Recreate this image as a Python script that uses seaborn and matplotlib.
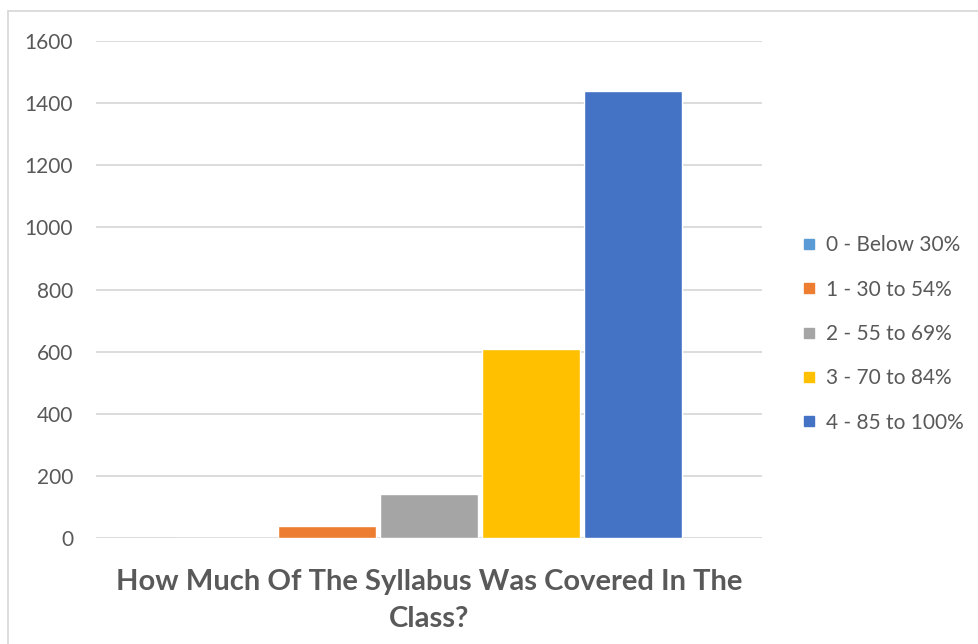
import matplotlib
matplotlib.use("Agg")
import matplotlib.pyplot as plt
import seaborn as sns
import pandas as pd
from matplotlib.patches import Rectangle
from matplotlib.lines import Line2D

categories = ["How Much Of The Syllabus Was Covered In The\nClass?"]
series = ["0 - Below 30%", "1 - 30 to 54%", "2 - 55 to 69%", "3 - 70 to 84%", "4 - 85 to 100%"]
values = [0, 38, 141, 608, 1439]
colors = ["#5B9BD5", "#ED7D31", "#A5A5A5", "#FFC000", "#4472C4"]
yticks = [0, 200, 400, 600, 800, 1000, 1200, 1400, 1600]

sns.set_theme(style="white")
plt.rcParams["font.family"] = ["Lato", "DejaVu Sans"]

W, H = 979, 644
fig = plt.figure(figsize=(W / 100, H / 100), dpi=100)
ax = fig.add_axes([96 / W, 1 - 538 / H, (762 - 96) / W, (538 - 41) / H])

df = pd.DataFrame({"cat": categories * len(series), "series": series, "val": values})
sns.barplot(data=df, x="cat", y="val", hue="series", hue_order=series,
            palette=colors, width=0.767, gap=0.04, saturation=1, ax=ax,
            legend=False, zorder=3)

ax.set_xlim(-0.5, 0.5)
ax.set_ylim(0, 1600)
ax.set_yticks(yticks)
ax.set_yticklabels([str(t) for t in yticks])
ax.yaxis.grid(True, color="#D9D9D9", linewidth=1.3, zorder=0)
ax.set_axisbelow(True)
for s in ax.spines.values():
    s.set_visible(False)
ax.tick_params(axis="y", length=0, pad=16.5, labelsize=15, labelcolor="#595959")
ax.set_xticks([])
ax.set_ylabel("")
ax.set_xlabel(categories[0], fontsize=21, fontweight="bold", color="#595959",
              labelpad=22, linespacing=1.55)

handles = [Line2D([0], [0], marker="s", linestyle="none", markersize=7,
                  markerfacecolor=c, markeredgecolor=c) for c in colors]
fig.legend(handles, series, loc="center left", bbox_to_anchor=(802 / W, 1 - 334 / H),
           frameon=False, fontsize=15, labelcolor="#595959", handlelength=0.7,
           handletextpad=0.45, labelspacing=1.17, borderaxespad=0, borderpad=0)

fig.patches.append(Rectangle((8 / W, -0.1), 1.2, 1 - 11 / H + 0.1,
                             transform=fig.transFigure, fill=False,
                             edgecolor="#D9D9D9", linewidth=1.3))

fig.savefig("out.png", dpi=100)
